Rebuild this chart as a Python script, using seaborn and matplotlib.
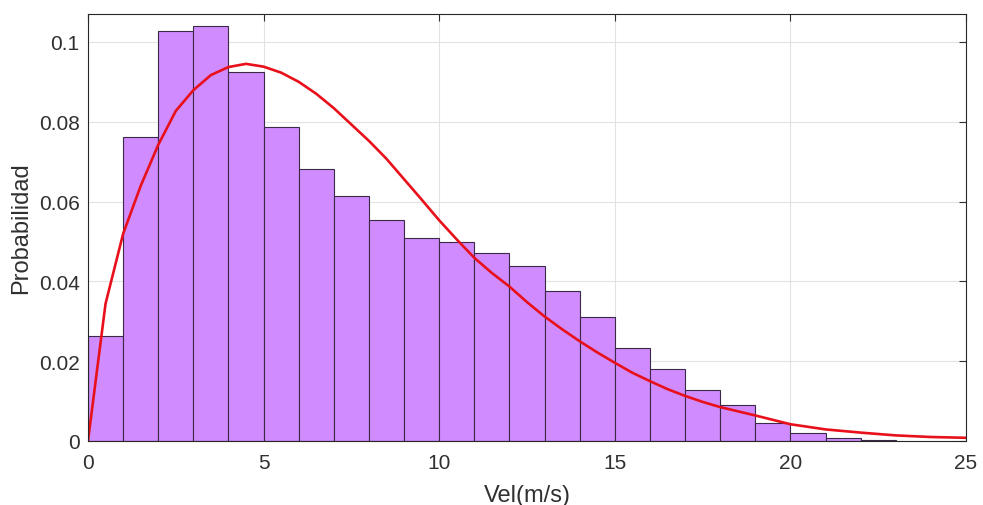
import seaborn as sns
from matplotlib import pyplot as plt
import numpy as np
import pandas as pd

# histogram bins (width 1 m/s) and probability per bin
bin_edges = list(range(0, 24))
bin_prob = [0.0264, 0.0762, 0.1027, 0.1039, 0.0924, 0.0788, 0.0682, 0.0613,
            0.0553, 0.0509, 0.0498, 0.0472, 0.0439, 0.0375, 0.0311, 0.0234,
            0.0180, 0.0129, 0.0089, 0.0046, 0.0019, 0.0008, 0.0003]

# fitted curve
fit_x = [0, 0.5, 1, 1.5, 2, 2.5, 3, 3.5, 4, 4.5, 5, 5.5, 6, 6.5, 7, 7.5, 8, 8.5,
         9, 9.5, 10, 10.5, 11, 11.5, 12, 12.5, 13, 13.5, 14, 14.5, 15, 15.5,
         16, 16.5, 17, 17.5, 18, 19, 20, 21, 22, 23, 24, 25]
fit_y = [0.0, 0.0344, 0.0519, 0.0639, 0.0742, 0.0827, 0.0879, 0.0917, 0.0937,
         0.0945, 0.0938, 0.0923, 0.0900, 0.0870, 0.0834, 0.0793, 0.0752, 0.0707,
         0.0656, 0.0605, 0.0553, 0.0505, 0.0459, 0.0421, 0.0387, 0.0348, 0.0312,
         0.0280, 0.0250, 0.0222, 0.0196, 0.0171, 0.0150, 0.0130, 0.0113, 0.0098,
         0.0085, 0.0064, 0.0042, 0.0029, 0.0021, 0.0014, 0.0010, 0.0008]

sns.set_style("white")
plt.rcParams['font.family'] = ['Liberation Sans', 'DejaVu Sans']

centers = np.array(bin_edges[:-1]) + 0.5
df = pd.DataFrame({'vel': centers, 'p': bin_prob})

fig = plt.figure(figsize=(9.83, 5.06), dpi=100)
ax = fig.add_axes([0.0895, 0.1265, 0.8932, 0.8439])

sns.histplot(data=df, x='vel', weights='p', bins=bin_edges, stat='count',
             color='#d08cff', alpha=1, edgecolor='#3a2a48', linewidth=0.8, ax=ax)
sns.lineplot(x=fit_x, y=fit_y, color='#e8101a', linewidth=1.9, ax=ax)

ax.set_xlim(0, 25)
ax.set_ylim(0, 0.107)
ax.set_xticks([0, 5, 10, 15, 20, 25])
ax.set_yticks([0, 0.02, 0.04, 0.06, 0.08, 0.1])
ax.set_yticklabels(['0', '0.02', '0.04', '0.06', '0.08', '0.1'])
ax.grid(True, color='#e2e2e2', linewidth=0.8)
ax.set_axisbelow(True)
ax.tick_params(direction='in', top=True, right=True, length=5, width=0.8,
               labelsize=15, colors='#303030')
ax.tick_params(axis='x', pad=9)
ax.tick_params(axis='y', pad=6)
for s in ax.spines.values():
    s.set_color('#262626')
    s.set_linewidth(0.8)
ax.set_xlabel('Vel(m/s)', fontsize=17, color='#303030', labelpad=8)
ax.set_ylabel('Probabilidad', fontsize=17, color='#303030', labelpad=5)

plt.savefig('out.png', dpi=100)
